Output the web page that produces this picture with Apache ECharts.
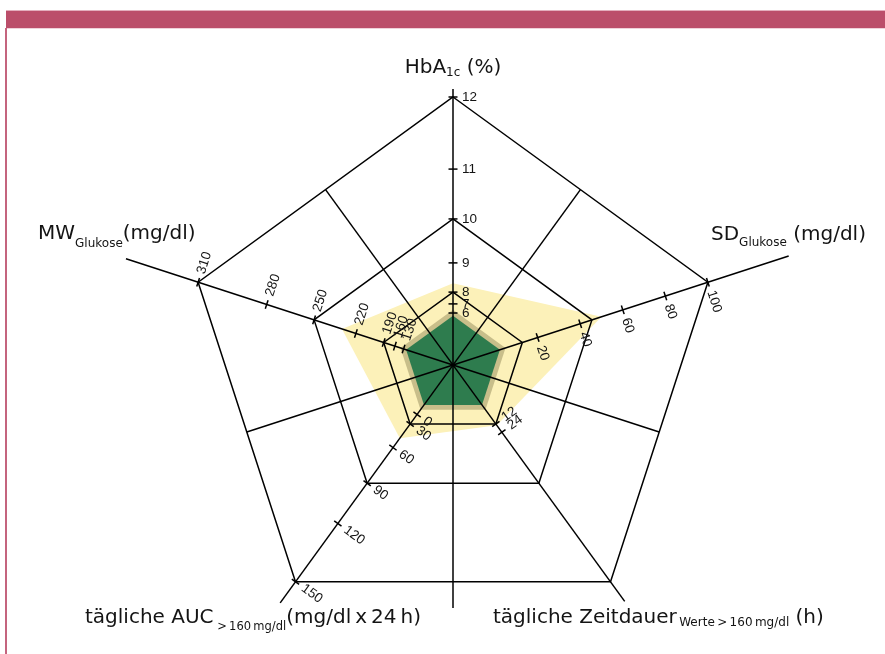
<!DOCTYPE html>
<html>
<head>
<meta charset="utf-8">
<script src="https://cdn.jsdelivr.net/npm/echarts@6/dist/echarts.min.js"></script>
<style>
  html, body { margin: 0; padding: 0; background: #ffffff; }
  #chart { width: 885px; height: 654px; }
</style>
</head>
<body>
<div id="chart"></div>
<script>
// Glukose-Pentagon: fünf Achsen im Uhrzeigersinn ab 12 Uhr
const axisKeys = ['hba1c', 'sd', 'zeit', 'auc', 'mw'];

// Skalenbeschriftungen je Achse
const hba1cTicks = [6, 7, 8, 9, 10, 11, 12];
const mwTicks = [130, 160, 190, 220, 250, 280, 310];
const aucTicks = [0, 30, 60, 90, 120, 150];
const sdTicks = [20, 40, 60, 80, 100];
const zeitTicks = [12, 24];

// Patientenwerte (gelbe Fläche) in der Reihenfolge von axisKeys
const patientValues = [8.3, 50, 14, 48, 230];

// Normbereich (Saum und Kern), als Anteil des Außenrings
const normSaum = [0.206, 0.206, 0.206, 0.206, 0.206];
const normKern = [0.184, 0.184, 0.184, 0.184, 0.184];

// Rasterringe auf den HbA1c-Stufen
const ringLevels = [8, 10, 12];

// Nichtlineare Achsenteilung: Radius (Anteil des Außenrings) an jeder Skalenmarke
const stufen = [0.194, 0.228, 0.272, 0.381, 0.545, 0.731, 1];
const scales = {
  hba1c: { ticks: hba1cTicks, stops: stufen },
  mw:    { ticks: mwTicks,    stops: stufen },
  auc:   { ticks: aucTicks,   stops: stufen.slice(1) },
  sd:    { ticks: sdTicks,    stops: [0.332, 0.499, 0.666, 0.833, 1] },
  zeit:  { ticks: zeitTicks,  stops: [0.272, 0.31] }
};

// Wert -> Radius, stückweise linear zwischen den Skalenmarken
function toRadius(key, v) {
  const t = scales[key].ticks, s = scales[key].stops;
  let i = 0;
  while (i < t.length - 2 && v > t[i + 1]) i++;
  return s[i] + (v - t[i]) / (t[i + 1] - t[i]) * (s[i + 1] - s[i]);
}

const STEP = 360 / axisKeys.length;
const LINE = '#000000';
const TEXT = '#141414';
const LW = 1.5;

// Linienlängen der Achsen (nach außen / Gegenrichtung durch das Zentrum)
const axisOuter = [1.03, 1.317, 1.09, 1.097, 1.283];
const axisInner = [0.907, 0.809, 0.809, 0.809, 0.809];

const areaSets = [
  { values: axisKeys.map((k, i) => toRadius(k, patientValues[i])), color: '#fcf1b9' },
  { values: normSaum, color: '#c8be8a' },
  { values: normKern, color: '#2e7c4e' }
];

const tickItems = [];
axisKeys.forEach((k, i) => {
  scales[k].ticks.forEach((v) => {
    tickItems.push({ value: [toRadius(k, v), i * STEP], label: String(v) });
  });
});

function pentagon(api, radii) {
  return radii.map((r, i) => api.coord([r, i * STEP]));
}

const chart = echarts.init(document.getElementById('chart'), null, { renderer: 'canvas' });

const titleFont = 'DejaVu Sans';
const main = { fontSize: 20, fontFamily: titleFont, fill: TEXT };
function sub(drop, size) {
  return { fontSize: size || 12, fontFamily: titleFont, fill: TEXT, padding: [drop, 0, 0, 0] };
}

chart.setOption({
  animation: false,
  backgroundColor: '#ffffff',
  polar: { center: [453, 365], radius: 268 * 1.35 },
  radiusAxis: { type: 'value', min: 0, max: 1.35, show: false,
    axisLine: { show: false }, axisTick: { show: false }, axisLabel: { show: false }, splitLine: { show: false } },
  angleAxis: { type: 'value', min: 0, max: 360, startAngle: 90, clockwise: true, show: false,
    axisLine: { show: false }, axisTick: { show: false }, axisLabel: { show: false }, splitLine: { show: false } },
  graphic: [
    { type: 'rect', shape: { x: 6, y: 10, width: 879, height: 1 }, style: { fill: '#e3aebd' } },
    { type: 'rect', shape: { x: 6, y: 11, width: 879, height: 17 }, style: { fill: '#bb4e6a' } },
    { type: 'rect', shape: { x: 6, y: 28, width: 879, height: 1 }, style: { fill: '#efd2da' } },
    { type: 'rect', shape: { x: 5, y: 28, width: 2, height: 626 }, style: { fill: '#c4647e' } },
    { type: 'text', x: 453, y: 68, style: {
      text: '{m|HbA}{s|1c}{m| (%)}', align: 'center', verticalAlign: 'middle',
      rich: { m: main, s: sub(10) } } },
    { type: 'text', x: 38, y: 234, style: {
      text: '{m|MW}{s|Glukose}{m|(mg/dl)}', align: 'left', verticalAlign: 'middle',
      rich: { m: main, s: sub(19) } } },
    { type: 'text', x: 711, y: 235, style: {
      text: '{m|SD}{s|Glukose}{m| (mg/dl)}', align: 'left', verticalAlign: 'middle',
      rich: { m: main, s: sub(16) } } },
    { type: 'text', x: 85, y: 618, style: {
      text: '{m|tägliche AUC}{s| >\u2009160\u2009mg/dl}{m|(mg/dl\u2009x\u200924\u2009h)}', align: 'left', verticalAlign: 'middle',
      rich: { m: main, s: sub(19, 11.5) } } },
    { type: 'text', x: 493, y: 618, style: {
      text: '{m|tägliche Zeitdauer}{s|\u2009Werte\u2009>\u2009160\u2009mg/dl}{m| (h)}', align: 'left', verticalAlign: 'middle',
      rich: { m: main, s: sub(10) } } }
  ],
  series: [
    {
      type: 'custom', name: 'Flächen', coordinateSystem: 'polar', silent: true,
      data: areaSets.map(() => [0, 0]),
      renderItem(params, api) {
        const set = areaSets[params.dataIndex];
        return { type: 'polygon', shape: { points: pentagon(api, set.values) }, style: { fill: set.color } };
      }
    },
    {
      type: 'custom', name: 'Raster', coordinateSystem: 'polar', silent: true,
      data: ringLevels.map((v) => [toRadius('hba1c', v), 0]),
      renderItem(params, api) {
        const r = api.value(0);
        return { type: 'polygon', shape: { points: pentagon(api, axisKeys.map(() => r)) },
          style: { fill: 'none', stroke: LINE, lineWidth: LW, lineJoin: 'miter' } };
      }
    },
    {
      type: 'custom', name: 'Achsen', coordinateSystem: 'polar', silent: true,
      data: axisKeys.map((k, i) => [axisOuter[i], i * STEP]),
      renderItem(params, api) {
        const i = params.dataIndex;
        const a = api.value(1);
        const p1 = api.coord([api.value(0), a]);
        const p2 = api.coord([axisInner[i], a + 180]);
        return { type: 'line', shape: { x1: p1[0], y1: p1[1], x2: p2[0], y2: p2[1] },
          style: { stroke: LINE, lineWidth: LW } };
      }
    },
    {
      type: 'custom', name: 'Skalen', coordinateSystem: 'polar', silent: true,
      data: tickItems.map((t) => t.value),
      renderItem(params, api) {
        const item = tickItems[params.dataIndex];
        const r = api.value(0), a = api.value(1);
        const c = api.coord([0, a]);
        const p = api.coord([r, a]);
        let ux = p[0] - c[0], uy = p[1] - c[1];
        const len = Math.hypot(ux, uy);
        ux /= len; uy /= len;
        let nx = -uy, ny = ux;
        if (nx < -1e-6 || (Math.abs(nx) < 1e-6 && ny > 0)) { nx = -nx; ny = -ny; }
        const rot = Math.atan2(-ny, nx);
        const h = 4.5;
        return {
          type: 'group',
          children: [
            { type: 'line', shape: { x1: p[0] - nx * h, y1: p[1] - ny * h, x2: p[0] + nx * h, y2: p[1] + ny * h },
              style: { stroke: LINE, lineWidth: LW } },
            { type: 'text', x: p[0], y: p[1], rotation: rot,
              style: { text: item.label, x: 9, y: 0, align: 'left', verticalAlign: 'middle',
                fill: TEXT, font: '13.5px "Liberation Sans", Arial, sans-serif' } }
          ]
        };
      }
    }
  ]
});
</script>
</body>
</html>
